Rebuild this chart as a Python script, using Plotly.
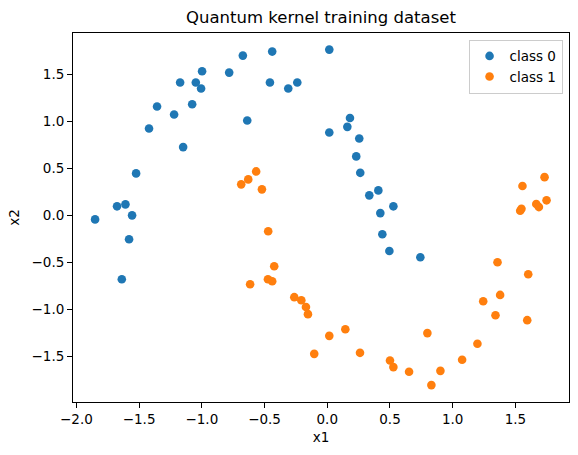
import plotly.graph_objects as go

# Class 0 (blue) points
class0_x = [-1.851, -1.676, -1.609, -1.556, -1.524, -1.421, -1.357, -1.221, -1.149, -1.077,
            -1.173, -1.048, -1.006, -0.998, -0.782, -0.673, -0.638, -0.439, -0.457, -0.311,
            -0.239, -1.580, -1.638, 0.016, 0.016, 0.181, 0.160, 0.255, 0.231, 0.263,
            0.335, 0.407, 0.423, 0.527, 0.439, 0.495, 0.742]
class0_y = [-0.043, 0.096, 0.117, 0.000, 0.447, 0.925, 1.160, 1.074, 0.727, 1.184,
            1.415, 1.415, 1.351, 1.535, 1.521, 1.702, 1.011, 1.745, 1.415, 1.351,
            1.415, -0.255, -0.681, 1.766, 0.883, 1.038, 0.943, 0.819, 0.628, 0.453,
            0.213, 0.266, 0.024, 0.096, -0.202, -0.380, -0.447]

# Class 1 (orange) points
class1_x = [-0.686, -0.630, -0.567, -0.521, -0.471, -0.423, -0.473, -0.439, -0.615, -0.263,
            -0.207, -0.170, -0.154, -0.104, 0.016, 0.144, 0.261, 0.500, 0.527, 0.652,
            0.830, 0.902, 0.798, 1.075, 1.197, 1.243, 1.378, 1.341, 1.357, 1.602,
            1.594, 1.556, 1.732, 1.538, 1.548, 1.666, 1.687, 1.748]
class1_y = [0.330, 0.383, 0.468, 0.277, -0.170, -0.543, -0.681, -0.702, -0.734, -0.872,
            -0.904, -0.976, -1.053, -1.476, -1.284, -1.213, -1.465, -1.547, -1.617, -1.667,
            -1.809, -1.657, -1.255, -1.539, -1.369, -0.915, -0.848, -1.064, -0.500, -0.628,
            -1.117, 0.312, 0.407, 0.049, 0.070, 0.120, 0.088, 0.160]

series_names = ["class 0", "class 1"]
series_colors = ["#1f77b4", "#ff7f0e"]

FONT = "DejaVu Sans"

fig = go.Figure()
for name, xs, ys, col in zip(series_names, [class0_x, class1_x], [class0_y, class1_y], series_colors):
    fig.add_trace(go.Scatter(x=xs, y=ys, mode="markers", name=name,
                             marker=dict(color=col, size=8.6, line=dict(width=0))))

axis_common = dict(showgrid=False, zeroline=False, showline=True, mirror=True,
                   linecolor="black", linewidth=1, ticks="outside", ticklen=5,
                   tickwidth=1, tickcolor="black", tickformat=".1f", dtick=0.5,
                   tickfont=dict(family=FONT, size=13.5, color="black"))

fig.update_layout(
    width=578, height=455,
    margin=dict(l=73, r=9, t=33, b=53),
    paper_bgcolor="white", plot_bgcolor="white",
    font=dict(family=FONT, color="black"),
    title=dict(text="Quantum kernel training dataset", x=0.5, xref="paper",
               y=1 - 17 / 455, yref="container", yanchor="middle",
               font=dict(family=FONT, size=16.5, color="black")),
    xaxis=dict(range=[-2.027, 1.927], tick0=-2.0,
               title=dict(text="x1", standoff=6, font=dict(family=FONT, size=13.5)),
               **axis_common),
    yaxis=dict(range=[-1.989, 1.943], tick0=-1.5,
               title=dict(text="x2", standoff=8, font=dict(family=FONT, size=13.5)),
               **axis_common),
    legend=dict(x=0.987, y=0.982, xanchor="right", yanchor="top",
                bordercolor="#cccccc", borderwidth=1, bgcolor="rgba(255,255,255,0.8)",
                font=dict(family=FONT, size=13.5, color="black"),
                itemwidth=30, tracegroupgap=0),
    showlegend=True,
)

fig.write_html("out.html")
